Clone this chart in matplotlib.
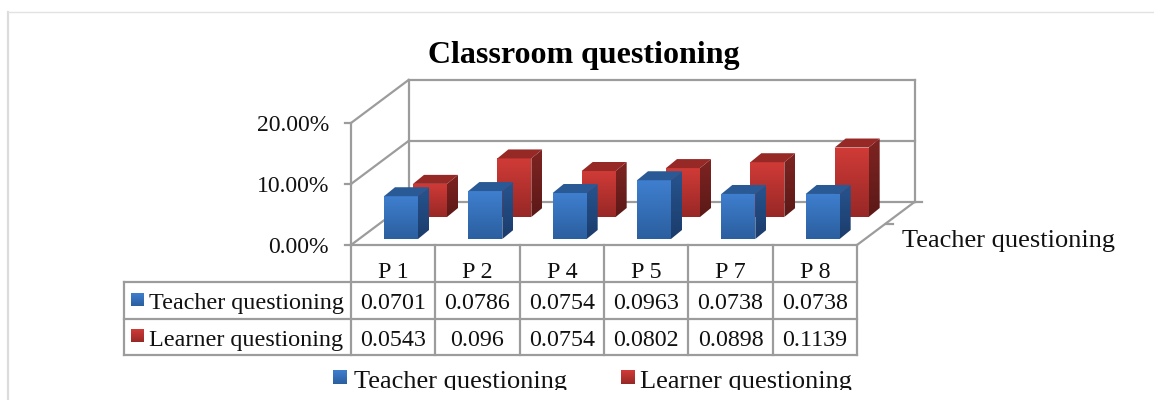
import numpy as np
import matplotlib
matplotlib.use('Agg')
import matplotlib.pyplot as plt
from matplotlib.colors import to_rgb
from matplotlib.patches import Polygon, Rectangle

# values as shown in the data table
categories = ['P 1', 'P 2', 'P 4', 'P 5', 'P 7', 'P 8']
teacher = [0.0701, 0.0786, 0.0754, 0.0963, 0.0738, 0.0738]
learner = [0.0543, 0.096, 0.0754, 0.0802, 0.0898, 0.1139]
series_names = ['Teacher questioning', 'Learner questioning']
y_ticks = [0.0, 0.1, 0.2]

plt.rcParams['font.family'] = ['Liberation Serif', 'DejaVu Serif']

GREY = '#9c9c9c'
BLUE = dict(front=('#3f7fcf', '#2b5f9f'), side=('#27548f', '#1b3c6b'), top='#2a5a96')
RED = dict(front=('#d03b37', '#972826'), side=('#7e2422', '#5b1917'), top='#962826')

# layout of the fake 3d box, in pixels
X0, X1 = 351, 857
Y0 = 245
PX_PER_UNIT = 610
DEPTH_X, DEPTH_Y = 57.5, 43
STEP = (X1 - X0) / len(categories)
BAR_W = 34
SIDE_X, SIDE_Y = 11, 9

fig = plt.figure(figsize=(11.54, 4.0), dpi=100)
ax = fig.add_axes([0, 0, 1, 1])


def val_y(v):
    return Y0 - v * PX_PER_UNIT


def line(xs, ys, lw=1.6, color=GREY, z=1):
    ax.plot(xs, ys, color=color, lw=lw, solid_capstyle='projecting', zorder=z)


def gradient(points, c_top, c_bottom, z):
    pts = np.array(points)
    x0, y0 = pts.min(axis=0)
    x1, y1 = pts.max(axis=0)
    grad = np.linspace(to_rgb(c_top), to_rgb(c_bottom), 64).reshape(64, 1, 3)
    im = ax.imshow(grad, extent=[x0, x1, y1, y0], aspect='auto', interpolation='bilinear', zorder=z)
    clip = Polygon(pts, closed=True, transform=ax.transData, fc='none', ec='none')
    ax.add_patch(clip)
    im.set_clip_path(clip)


def bar(left, bottom, value, colors, z):
    right = left + BAR_W
    top = bottom - value * PX_PER_UNIT
    gradient([(left, bottom), (right, bottom), (right, top), (left, top)], *colors['front'], z)
    gradient([(right, bottom), (right + SIDE_X, bottom - SIDE_Y), (right + SIDE_X, top - SIDE_Y), (right, top)],
             *colors['side'], z)
    ax.add_patch(Polygon([(left, top), (right, top), (right + SIDE_X, top - SIDE_Y), (left + SIDE_X, top - SIDE_Y)],
                         closed=True, fc=colors['top'], ec='none', zorder=z))


# outer frame of the page
ax.plot([8, 8], [400, 12], color='#dcdcdc', lw=1.6, zorder=1)
ax.plot([8, 1154], [12, 12], color='#e2e2e2', lw=1.0, zorder=1)

# walls, gridlines and floor
for v in y_ticks:
    y = val_y(v)
    line([345, X0], [y, y])
    line([X0, X0 + DEPTH_X], [y, y - DEPTH_Y])
    line([X0 + DEPTH_X, X1 + DEPTH_X], [y - DEPTH_Y, y - DEPTH_Y])
    ax.text(329, y + 8, f'{v * 100:.2f}%', ha='right', va='baseline', fontsize=17, color='#111111')
top_back = val_y(y_ticks[-1]) - DEPTH_Y
line([X0, X0], [val_y(y_ticks[-1]), Y0])
line([X0 + DEPTH_X] * 2, [top_back, Y0 - DEPTH_Y])
line([X1 + DEPTH_X] * 2, [top_back, Y0 - DEPTH_Y])
line([X0, X1], [Y0, Y0])
line([X1, X1 + DEPTH_X], [Y0, Y0 - DEPTH_Y])
line([X1 + DEPTH_X, X1 + DEPTH_X + 7], [Y0 - DEPTH_Y] * 2)
line([X1 + DEPTH_X / 2, X1 + DEPTH_X / 2 + 7], [Y0 - DEPTH_Y / 2] * 2)

# bars, back row first
for i, l in enumerate(learner):
    left = X0 + 33 + i * STEP
    bar(left + 29, Y0 - 28, l, RED, 3)
for i, t in enumerate(teacher):
    left = X0 + 33 + i * STEP
    bar(left, Y0 - 6, t, BLUE, 4)

ax.text(584, 63, 'Classroom questioning', ha='center', va='baseline', fontsize=23, fontweight='bold', color='black')
ax.text(902, 247, series_names[0], ha='left', va='baseline', fontsize=19, color='#111111')

# data table
T_LEFT = 124
rows_y = [282, 319, 355]
for ry in rows_y:
    line([T_LEFT, X1], [ry, ry])
line([T_LEFT, T_LEFT], [rows_y[0], rows_y[2]])
for i in range(len(categories) + 1):
    line([X0 + i * STEP] * 2, [Y0, rows_y[2]])
for i, c in enumerate(categories):
    cx = X0 + (i + 0.5) * STEP
    ax.text(cx, 278, c, ha='center', va='baseline', fontsize=17.3, color='#111111')
    ax.text(cx, 309, str(teacher[i]), ha='center', va='baseline', fontsize=17.3, color='#111111')
    ax.text(cx, 346, str(learner[i]), ha='center', va='baseline', fontsize=17.3, color='#111111')
for name, colors, y_box, y_text in zip(series_names, [BLUE, RED], [293, 329], [309, 346]):
    gradient([(131, y_box), (144, y_box), (144, y_box + 13), (131, y_box + 13)], *colors['front'], 3)
    ax.text(149, y_text, name, ha='left', va='baseline', fontsize=17.4, color='#111111')

# legend, cut off at the bottom like the source
cut = Rectangle((0, 0), 1154, 390, transform=ax.transData, fc='none', ec='none')
ax.add_patch(cut)
for name, colors, x_box, x_text in zip(series_names, [BLUE, RED], [333, 621], [354, 640]):
    gradient([(x_box, 370), (x_box + 14, 370), (x_box + 14, 384), (x_box, 384)], *colors['front'], 3)
    txt = ax.text(x_text, 388, name, ha='left', va='baseline', fontsize=19, color='#111111', clip_on=True)
    txt.set_clip_path(cut)

ax.set_xlim(0, 1154)
ax.set_ylim(400, 0)
ax.axis('off')
fig.savefig('out.png', dpi=100, facecolor='white')
